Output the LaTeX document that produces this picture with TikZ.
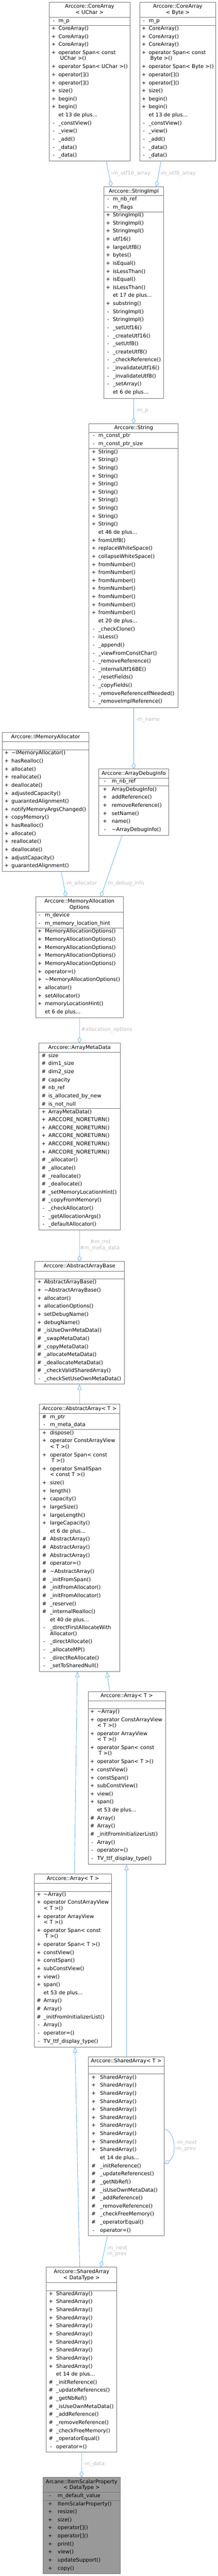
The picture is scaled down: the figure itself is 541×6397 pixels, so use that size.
\documentclass[tikz,border=0pt]{standalone}
\usepackage{fontspec}
\setmainfont{DejaVu Sans}
\usetikzlibrary{arrows.meta}
\definecolor{boxc}{HTML}{777777}
\definecolor{edgec}{HTML}{63B8FF}
\definecolor{labc}{HTML}{BEBEBE}
\definecolor{hlc}{HTML}{999999}
\newcounter{nc}
% class box: name, L, T, R, B, symbol-centre x, name x, extra style
\newcommand\cbx[8]{%
  \pgfmathsetmacro\cxW{#4-#2}\pgfmathsetmacro\cxH{#5-#3}%
  \node[cbox,#8,minimum width=\cxW pt,minimum height=\cxH pt,anchor=north west] (#1) at (#2,#3) {};%
  \def\cxL{#2}\def\cxR{#4}\pgfmathsetmacro\cxM{(#2+#4)/2}\def\cxS{#6}\def\cxN{#7}}
\newcommand\ttl[2]{\stepcounter{nc}\node[txt] (t\arabic{nc}) at (\cxM,#1) {#2};}
\newcommand\mem[3]{\stepcounter{nc}\node[txt] (s\arabic{nc}) at (\cxS,#1) {#2};\node[txt,anchor=west] (m\arabic{nc}) at (\cxN,#1) {#3};}
\newcommand\cnt[3][0]{\stepcounter{nc}\node[txt,anchor=west] (c\arabic{nc}) at ({\cxN+#1},#2) {#3};}
\newcommand\dvd[1]{\draw[cline] (\cxL,#1) -- (\cxR,#1);}
\newcommand\setY[1]{\pgfmathsetmacro\cxY{#1}}
\newcommand\mr[2]{\mem{\cxY}{#1}{#2}\pgfmathsetmacro\cxY{\cxY+20}}
\newcommand\me[1]{\cnt{\cxY}{#1}\pgfmathsetmacro\cxY{\cxY+20}}
\newcommand\mtwo[4][0]{\mem{\cxY}{#2}{#3}\cnt[#1]{\cxY+14.4}{#4}\pgfmathsetmacro\cxY{\cxY+34.8}}
\newcommand\arraycontent[1]{%
  \ttl{#1+11.8}{Arccore::Array< T >}
  \dvd{#1+23.2}\dvd{#1+43.2}
  \setY{#1+51.1}
  \mr{+}{\textasciitilde Array()}
  \mtwo{+}{operator ConstArrayView}{< T >()}
  \mtwo{+}{operator ArrayView}{< T >()}
  \mtwo[3.5]{+}{operator Span< const}{T >()}
  \mr{+}{operator Span< T >()}
  \mr{+}{constView()}
  \mr{+}{constSpan()}
  \mr{+}{subConstView()}
  \mr{+}{view()}
  \mr{+}{span()}
  \me{et 53 de plus...}
  \mr{\#}{Array()}
  \mr{\#}{Array()}
  \mr{\#}{\_initFromInitializerList()}
  \mr{-}{Array()}
  \mr{-}{operator=()}
  \mr{-}{TV\_ttf\_display\_type()}}
\newcommand\sharedcontent{%
  \mr{+}{SharedArray()}\mr{+}{SharedArray()}\mr{+}{SharedArray()}\mr{+}{SharedArray()}\mr{+}{SharedArray()}
  \mr{+}{SharedArray()}\mr{+}{SharedArray()}\mr{+}{SharedArray()}\mr{+}{SharedArray()}\mr{+}{SharedArray()}
  \me{et 14 de plus...}
  \mr{\#}{\_initReference()}
  \mr{\#}{\_updateReferences()}
  \mr{\#}{\_getNbRef()}
  \mr{\#}{\_isUseOwnMetaData()}
  \mr{\#}{\_addReference()}
  \mr{\#}{\_removeReference()}
  \mr{\#}{\_checkFreeMemory()}
  \mr{\#}{\_operatorEqual()}
  \mr{-}{operator=()}}
\begin{document}
\begin{tikzpicture}[x=1pt,y=-1pt,
  cbox/.style={draw=boxc, line width=1.2pt, fill=white, inner sep=0pt, outer sep=0pt},
  cline/.style={draw=boxc, line width=1.2pt},
  txt/.style={inner sep=0pt, outer sep=0pt, text height=9.3pt, text depth=2.7pt, font=\fontsize{12.9}{15}\selectfont},
  lab/.style={txt, text=labc, anchor=west},
  agg/.style={draw=edgec, line width=1.1pt, -{Diamond[fill=white,length=15.5pt,width=10pt]}},
  inh/.style={draw=edgec, line width=1.1pt, -{Triangle[fill=white,length=14pt,width=10.4pt]}},
]
\path[use as bounding box, fill=white] (0,0) rectangle (541,6397);

% ---------- CoreArray<UChar>
\cbx{ca1}{122.5}{5.2}{322.6}{400.3}{133.3}{145.3}{}
\ttl{16.6}{Arccore::CoreArray}
\ttl{31.4}{< UChar >}
\dvd{42.4}
\mem{52.1}{-}{m\_p}
\dvd{62.8}
\setY{71.8}
\mr{+}{CoreArray()}\mr{+}{CoreArray()}\mr{+}{CoreArray()}
\mtwo[4]{+}{operator Span< const}{UChar >()}
\mr{+}{operator Span< UChar >()}
\mr{+}{operator[]()}\mr{+}{operator[]()}
\mr{+}{size()}
\mr{+}{begin()}\mr{+}{begin()}
\me{et 13 de plus...}
\mr{-}{\_constView()}\mr{-}{\_view()}\mr{-}{\_add()}\mr{-}{\_data()}\mr{-}{\_data()}

% ---------- CoreArray<Byte>
\cbx{ca2}{346.8}{5.2}{535.9}{400.3}{357.1}{369.2}{}
\ttl{16.6}{Arccore::CoreArray}
\ttl{31.4}{< Byte >}
\dvd{42.4}
\mem{52.1}{-}{m\_p}
\dvd{62.8}
\setY{71.8}
\mr{+}{CoreArray()}\mr{+}{CoreArray()}\mr{+}{CoreArray()}
\mtwo[4]{+}{operator Span< const}{Byte >()}
\mr{+}{operator Span< Byte >()}
\mr{+}{operator[]()}\mr{+}{operator[]()}
\mr{+}{size()}
\mr{+}{begin()}\mr{+}{begin()}
\me{et 13 de plus...}
\mr{-}{\_constView()}\mr{-}{\_view()}\mr{-}{\_add()}\mr{-}{\_data()}\mr{-}{\_data()}

% ---------- StringImpl
\cbx{si}{257.4}{463.4}{406.8}{989.0}{268.5}{280.2}{}
\ttl{475.5}{Arccore::StringImpl}
\dvd{485.9}
\mem{495.2}{-}{m\_nb\_ref}
\mem{515.2}{-}{m\_flags}
\dvd{526.2}
\setY{534.8}
\mr{+}{StringImpl()}\mr{+}{StringImpl()}\mr{+}{StringImpl()}
\mr{+}{utf16()}\mr{+}{largeUtf8()}\mr{+}{bytes()}
\mr{+}{isEqual()}\mr{+}{isLessThan()}\mr{+}{isEqual()}\mr{+}{isLessThan()}
\me{et 17 de plus...}
\mr{+}{substring()}
\mr{-}{StringImpl()}\mr{-}{StringImpl()}
\mr{-}{\_setUtf16()}\mr{-}{\_createUtf16()}\mr{-}{\_setUtf8()}\mr{-}{\_createUtf8()}
\mr{-}{\_checkReference()}\mr{-}{\_invalidateUtf16()}\mr{-}{\_invalidateUtf8()}\mr{-}{\_setArray()}
\me{et 6 de plus...}

% ---------- String
\cbx{str}{221.2}{1051.8}{442.4}{1756.8}{232.9}{244.3}{}
\ttl{1063.1}{Arccore::String}
\dvd{1073.8}
\mem{1082.8}{-}{m\_const\_ptr}
\mem{1102.8}{-}{m\_const\_ptr\_size}
\dvd{1114.2}
\setY{1122.8}
\mr{+}{String()}\mr{+}{String()}\mr{+}{String()}\mr{+}{String()}\mr{+}{String()}
\mr{+}{String()}\mr{+}{String()}\mr{+}{String()}\mr{+}{String()}\mr{+}{String()}
\me{et 46 de plus...}
\mr{+}{fromUtf8()}\mr{+}{replaceWhiteSpace()}\mr{+}{collapseWhiteSpace()}
\mr{+}{fromNumber()}\mr{+}{fromNumber()}\mr{+}{fromNumber()}\mr{+}{fromNumber()}
\mr{+}{fromNumber()}\mr{+}{fromNumber()}\mr{+}{fromNumber()}
\me{et 20 de plus...}
\mr{-}{\_checkClone()}\mr{-}{isLess()}\mr{-}{\_append()}\mr{-}{\_viewFromConstChar()}
\mr{-}{\_removeReference()}\mr{-}{\_internalUtf16BE()}\mr{-}{\_resetFields()}
\mr{-}{\_copyFields()}\mr{-}{\_removeReferenceIfNeeded()}\mr{-}{\_removeImplReference()}

% ---------- IMemoryAllocator
\cbx{ima}{5.2}{1818.8}{221.2}{2164.4}{16.4}{28.3}{}
\ttl{1830.9}{Arccore::IMemoryAllocator}
\dvd{1842.2}\dvd{1862.3}
\setY{1870.9}
\mr{+}{\textasciitilde IMemoryAllocator()}\mr{+}{hasRealloc()}\mr{+}{allocate()}
\mr{+}{reallocate()}\mr{+}{deallocate()}\mr{+}{adjustedCapacity()}
\mr{+}{guarantedAlignment()}\mr{+}{notifyMemoryArgsChanged()}\mr{+}{copyMemory()}
\mr{+}{hasRealloc()}\mr{+}{allocate()}\mr{+}{reallocate()}\mr{+}{deallocate()}
\mr{+}{adjustCapacity()}\mr{+}{guarantedAlignment()}

% ---------- ArrayDebugInfo
\cbx{adi}{245.3}{1909.2}{418.6}{2074.5}{260.6}{277.4}{}
\ttl{1921.3}{Arccore::ArrayDebugInfo}
\dvd{1932.0}
\mem{1940.9}{-}{m\_nb\_ref}
\dvd{1952.0}
\setY{1961.0}
\mr{+}{ArrayDebugInfo()}\mr{+}{addReference()}\mr{+}{removeReference()}
\mr{+}{setName()}\mr{+}{name()}\mr{-}{\textasciitilde ArrayDebugInfo()}

% ---------- MemoryAllocationOptions
\cbx{mao}{88.3}{2227.0}{306.4}{2527.5}{98.6}{111.5}{}
\ttl{2238.4}{Arccore::MemoryAllocation}
\ttl{2253.9}{Options}
\dvd{2264.9}
\mem{2273.6}{-}{m\_device}
\mem{2293.6}{-}{m\_memory\_location\_hint}
\dvd{2305.3}
\setY{2313.6}
\mr{+}{MemoryAllocationOptions()}\mr{+}{MemoryAllocationOptions()}\mr{+}{MemoryAllocationOptions()}
\mr{+}{MemoryAllocationOptions()}\mr{+}{MemoryAllocationOptions()}
\mr{+}{operator=()}\mr{+}{\textasciitilde MemoryAllocationOptions()}
\mr{+}{allocator()}\mr{+}{setAllocator()}\mr{+}{memoryLocationHint()}
\me{et 6 de plus...}

% ---------- ArrayMetaData
\cbx{amd}{96.6}{2590.0}{298.1}{3055.1}{108.4}{120.1}{}
\ttl{2602.4}{Arccore::ArrayMetaData}
\dvd{2613.4}
\setY{2622.4}
\mr{\#}{size}\mr{\#}{dim1\_size}\mr{\#}{dim2\_size}\mr{\#}{capacity}
\mr{\#}{nb\_ref}\mr{\#}{is\_allocated\_by\_new}\mr{\#}{is\_not\_null}
\dvd{2752.8}
\setY{2761.5}
\mr{+}{ArrayMetaData()}
\mr{+}{ARCCORE\_NORETURN()}\mr{+}{ARCCORE\_NORETURN()}\mr{+}{ARCCORE\_NORETURN()}
\mr{+}{ARCCORE\_NORETURN()}\mr{+}{ARCCORE\_NORETURN()}
\mr{\#}{\_allocator()}\mr{\#}{\_allocate()}\mr{\#}{\_reallocate()}\mr{\#}{\_deallocate()}
\mr{\#}{\_setMemoryLocationHint()}\mr{\#}{\_copyFromMemory()}
\mr{-}{\_checkAllocator()}\mr{-}{\_getAllocationArgs()}\mr{-}{\_defaultAllocator()}

% ---------- AbstractArrayBase
\cbx{aab}{85.9}{3133.1}{308.8}{3437.4}{97.7}{109.4}{}
\ttl{3145.2}{Arccore::AbstractArrayBase}
\dvd{3156.2}\dvd{3176.2}
\setY{3184.9}
\mr{+}{AbstractArrayBase()}\mr{+}{\textasciitilde AbstractArrayBase()}\mr{+}{allocator()}
\mr{+}{allocationOptions()}\mr{+}{setDebugName()}\mr{+}{debugName()}
\mr{\#}{\_isUseOwnMetaData()}\mr{\#}{\_swapMetaData()}\mr{\#}{\_copyMetaData()}
\mr{\#}{\_allocateMetaData()}\mr{\#}{\_deallocateMetaData()}\mr{\#}{\_checkValidSharedArray()}
\mr{-}{\_checkSetUseOwnMetaData()}

% ---------- AbstractArray<T>
\cbx{aa}{98.0}{3487.1}{296.8}{4151.0}{110.1}{124.2}{}
\ttl{3498.8}{Arccore::AbstractArray< T >}
\dvd{3509.9}
\mem{3519.2}{\#}{m\_ptr}
\mem{3539.2}{-}{m\_meta\_data}
\dvd{3549.6}
\setY{3558.9}
\mr{+}{dispose()}
\mtwo{+}{operator ConstArrayView}{< T >()}
\mtwo[3.5]{+}{operator Span< const}{T >()}
\mtwo{+}{operator SmallSpan}{< const T >()}
\mr{+}{size()}\mr{+}{length()}\mr{+}{capacity()}\mr{+}{largeSize()}
\mr{+}{largeLength()}\mr{+}{largeCapacity()}
\me{et 6 de plus...}
\mr{\#}{AbstractArray()}\mr{\#}{AbstractArray()}\mr{\#}{AbstractArray()}
\mr{\#}{operator=()}\mr{\#}{\textasciitilde AbstractArray()}\mr{\#}{\_initFromSpan()}
\mr{\#}{\_initFromAllocator()}\mr{\#}{\_initFromAllocator()}\mr{\#}{\_reserve()}
\mr{\#}{\_internalRealloc()}
\me{et 40 de plus...}
\mem{\cxY}{-}{\_directFirstAllocateWith}\cnt{\cxY+14.3}{Allocator()}\setY{\cxY+34.3}
\mr{-}{\_directAllocate()}\mr{-}{\_allocateMP()}\mr{-}{\_directReAllocate()}
\mr{-}{\_setToSharedNull()}

% ---------- Array<T> (right)
\cbx{arr1}{218.8}{4200.3}{410.8}{4629.9}{229.1}{241.2}{}
\arraycontent{4200.3}

% ---------- Array<T> (left)
\cbx{arr2}{85.2}{4654.1}{277.2}{5083.0}{96.3}{108.4}{}
\arraycontent{4654.1}

% ---------- SharedArray<T>
\cbx{sat}{218.8}{5107.5}{407.9}{5552.2}{232.4}{248.5}{}
\ttl{5119.2}{Arccore::SharedArray< T >}
\dvd{5130.3}\dvd{5150.3}
\setY{5159.2}
\sharedcontent

% ---------- SharedArray<DataType>
\cbx{sad}{114.9}{5629.5}{289.9}{6089.0}{126.5}{139.4}{}
\ttl{5642.3}{Arccore::SharedArray}
\ttl{5657.2}{< DataType >}
\dvd{5668.2}\dvd{5688.2}
\setY{5696.8}
\sharedcontent

% ---------- ItemScalarProperty<DataType>
\cbx{isp}{106.3}{6151.5}{298.8}{6391.7}{124.4}{143.2}{fill=hlc}
\ttl{6163.4}{Arcane::ItemScalarProperty}
\ttl{6178.3}{< DataType >}
\dvd{6189.1}
\mem{6198.5}{-}{m\_default\_value}
\dvd{6209.0}
\setY{6218.4}
\mr{+}{ItemScalarProperty()}\mr{+}{resize()}\mr{+}{size()}\mr{+}{operator[]()}
\mr{+}{operator[]()}\mr{+}{print()}\mr{+}{view()}\mr{+}{updateSupport()}\mr{+}{copy()}

% ---------- connectors
\draw[agg] ([xshift=41.5pt]ca1.south) -- ([xshift=-56pt]si.north);
\node[lab] (l1) at (275.4,431.4) {-m\_utf16\_array};
\draw[agg] ([xshift=-41.75pt]ca2.south) -- ([xshift=56.1pt]si.north);
\node[lab] (l2) at (396.1,431.4) {-m\_utf8\_array};
\draw[agg] (si.south) -- (str.north);
\node[lab] (l3) at (336.4,1020) {-m\_p};
\draw[agg] (str.south) -- (adi.north);
\node[lab] (l4) at (336.4,1787.4) {-m\_name};
\draw[agg] ([xshift=38.6pt]ima.south) -- ([xshift=-33.5pt]mao.north);
\node[lab] (l5) at (161.1,2194.5) {-m\_allocator};
\draw[agg] ([xshift=-28.95pt]adi.south) -- ([xshift=52.8pt]mao.north);
\node[lab] (l6) at (263.3,2194.5) {-m\_debug\_info};
\draw[agg] (mao.south) -- (amd.north);
\node[lab] (l7) at (201.2,2557) {\#allocation\_options};
\draw[agg] (amd.south) -- (aab.north);
\node[lab,anchor=center] (l8) at (249.1,3085.1) {\#m\_md};
\node[lab,anchor=center] (l9) at (247.9,3100.3) {\#m\_meta\_data};
\draw[inh] (aa.north) -- (aab.south);
\draw[inh] ([xshift=-42.2pt]arr1.north) -- ([xshift=67.6pt]aa.south);
\draw[inh] ([xshift=3.4pt]arr2.north) -- ([xshift=-5.5pt]aa.south);
\draw[inh] ([xshift=0.65pt]sat.north) -- ([xshift=-0.8pt]arr1.south);
\draw[inh] ([xshift=-4.7pt]sad.north) -- ([xshift=5.1pt]arr2.south);
\draw[agg] ([yshift=42.85pt]sat.east) .. controls +(28,6) and +(31,-21) .. ([xshift=1pt,yshift=-43.65pt]sat.east);
\node[lab] (l10) at (436.5,5320.7) {-m\_next};
\node[lab] (l11) at (434.1,5335.9) {-m\_prev};
\draw[agg] ([xshift=-46.65pt]sat.south) -- ([xshift=47.8pt]sad.north);
\node[lab] (l12) at (264.0,5583) {-m\_next};
\node[lab] (l13) at (262.3,5597.5) {-m\_prev};
\draw[agg] (sad.south) -- (isp.north);
\node[lab] (l14) at (207.0,6119.3) {-m\_data};
\end{tikzpicture}
\end{document}
